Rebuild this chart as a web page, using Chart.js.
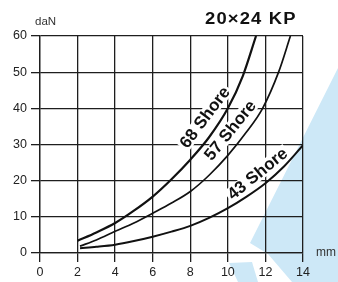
<!DOCTYPE html>
<html>
<head>
<meta charset="utf-8">
<script src="https://cdn.jsdelivr.net/npm/chart.js@4/dist/chart.umd.min.js"></script>
<style>
  html, body { margin: 0; padding: 0; background: #fff; }
  #wrap { width: 338px; height: 282px; }
</style>
</head>
<body>
<div id="wrap"><canvas id="myChart" width="338" height="282"></canvas></div>
<script>
// Datos (mm -> daN)
const title = "20×24 KP";
const yUnit = "daN";
const xUnit = "mm";
const xTicks = [0, 2, 4, 6, 8, 10, 12, 14];
const yTicks = [0, 10, 20, 30, 40, 50, 60];

const shore68 = [[2, 3.4], [3, 5.7], [4, 8.3], [5, 11.7], [6, 15.6], [7, 20.4], [8, 25.8], [9, 32], [10, 40], [10.8, 49], [11.5, 60]];
const shore57 = [[2.13, 1.9], [3, 3.6], [4, 6], [5, 8.3], [6, 11], [7, 13.8], [8, 17], [9, 21.5], [10, 27], [11, 33.5], [11.85, 40], [12.7, 50], [13.33, 60]];
const shore43 = [[2.13, 1.3], [3, 1.7], [4, 2.3], [5, 3.3], [6, 4.5], [7, 5.9], [8, 7.5], [9, 9.7], [10, 12.4], [11, 15.6], [12, 19.3], [13, 24], [14, 29.8]];

// etiquetas de las curvas: texto, posicion (mm, daN), angulo
const curveLabels = [
  ["68 Shore", 8.8, 37.4, -53],
  ["57 Shore", 10.15, 33.8, -51],
  ["43 Shore", 11.6, 21.8, -39]
];

const toPts = arr => arr.map(p => ({ x: p[0], y: p[1] }));

// mancha azul del fondo (escaneo)
const bluePatch = {
  id: "bluePatch",
  beforeDraw(c) {
    const ctx = c.ctx;
    ctx.save();
    ctx.fillStyle = "#cde8f7";
    ctx.beginPath();
    ctx.moveTo(250, 243); ctx.lineTo(338, 68); ctx.lineTo(338, 282);
    ctx.lineTo(292, 282); ctx.lineTo(268, 254); ctx.closePath();
    ctx.fill();
    ctx.beginPath();
    ctx.moveTo(229, 263); ctx.lineTo(252, 262); ctx.lineTo(258, 282); ctx.lineTo(238, 282);
    ctx.closePath();
    ctx.fill();
    ctx.restore();
  }
};

function labelFont() { return "bold 17px 'Liberation Sans', Arial, sans-serif"; }

const textPlugin = {
  id: "textPlugin",
  beforeDatasetsDraw(c) {
    // fondo blanco detras de las etiquetas (tapa la reticula)
    const ctx = c.ctx, sx = c.scales.x, sy = c.scales.y;
    ctx.save();
    ctx.font = labelFont();
    for (const [txt, mx, vy, ang] of curveLabels) {
      const w = ctx.measureText(txt).width;
      ctx.save();
      ctx.translate(sx.getPixelForValue(mx), sy.getPixelForValue(vy));
      ctx.rotate(ang * Math.PI / 180);
      ctx.fillStyle = "#fff";
      ctx.fillRect(-w / 2 - 2, -8, w + 4, 15);
      ctx.restore();
    }
    ctx.restore();
  },
  afterDatasetsDraw(c) {
    const ctx = c.ctx, sx = c.scales.x, sy = c.scales.y;
    ctx.save();
    ctx.fillStyle = "#111";
    ctx.font = labelFont();
    ctx.textAlign = "center";
    ctx.textBaseline = "middle";
    for (const [txt, mx, vy, ang] of curveLabels) {
      ctx.save();
      ctx.translate(sx.getPixelForValue(mx), sy.getPixelForValue(vy));
      ctx.rotate(ang * Math.PI / 180);
      ctx.fillText(txt, 0, 0);
      ctx.restore();
    }
    // titulo
    ctx.save();
    ctx.textAlign = "left";
    ctx.textBaseline = "alphabetic";
    ctx.font = "bold 16px 'Liberation Sans', Arial, sans-serif";
    ctx.letterSpacing = "1px";
    ctx.translate(205, 23.5);
    ctx.scale(1.15, 1);
    ctx.fillText(title, 0, 0);
    ctx.restore();
    // unidades
    ctx.fillStyle = "#333";
    ctx.textAlign = "left";
    ctx.textBaseline = "alphabetic";
    ctx.font = "11.5px 'Liberation Sans', Arial, sans-serif";
    ctx.fillText(yUnit, 35, 25);
    ctx.font = "12px 'Liberation Sans', Arial, sans-serif";
    ctx.fillText(xUnit, 316, 256);
    ctx.restore();
  }
};

const lineDs = (data, w) => ({
  data: toPts(data),
  showLine: true,
  borderColor: "#111",
  borderWidth: w,
  pointRadius: 0,
  fill: false,
  cubicInterpolationMode: "monotone"
});

const gridCfg = { color: "#1e1e1e", lineWidth: 1.3, tickLength: 9, tickColor: "#1e1e1e", tickWidth: 1.3 };

const ctx = document.getElementById("myChart").getContext("2d");
const chart = new Chart(ctx, {
  type: "scatter",
  data: {
    datasets: [lineDs(shore68, 2.2), lineDs(shore57, 1.7), lineDs(shore43, 2)]
  },
  options: {
    responsive: false,
    animation: false,
    layout: { padding: { top: 36, right: 35, left: 0, bottom: 0 } },
    plugins: { legend: { display: false }, tooltip: { enabled: false } },
    scales: {
      x: {
        type: "linear", min: xTicks[0], max: xTicks[xTicks.length - 1],
        afterBuildTicks: s => { s.ticks = xTicks.map(v => ({ value: v })); },
        afterFit: s => { s.height = 29; },
        ticks: { color: "#222", padding: 3, font: { size: 12.5, family: "'Liberation Sans', Arial" } },
        grid: gridCfg,
        border: { color: "#1e1e1e", width: 1.3 }
      },
      y: {
        type: "linear", min: yTicks[0], max: yTicks[yTicks.length - 1],
        afterBuildTicks: s => { s.ticks = yTicks.map(v => ({ value: v })); },
        afterFit: s => { s.width = 40; },
        ticks: { color: "#222", padding: 4, font: { size: 12.5, family: "'Liberation Sans', Arial" } },
        grid: gridCfg,
        border: { color: "#1e1e1e", width: 1.3 }
      }
    }
  },
  plugins: [bluePatch, textPlugin]
});
</script>
</body>
</html>
